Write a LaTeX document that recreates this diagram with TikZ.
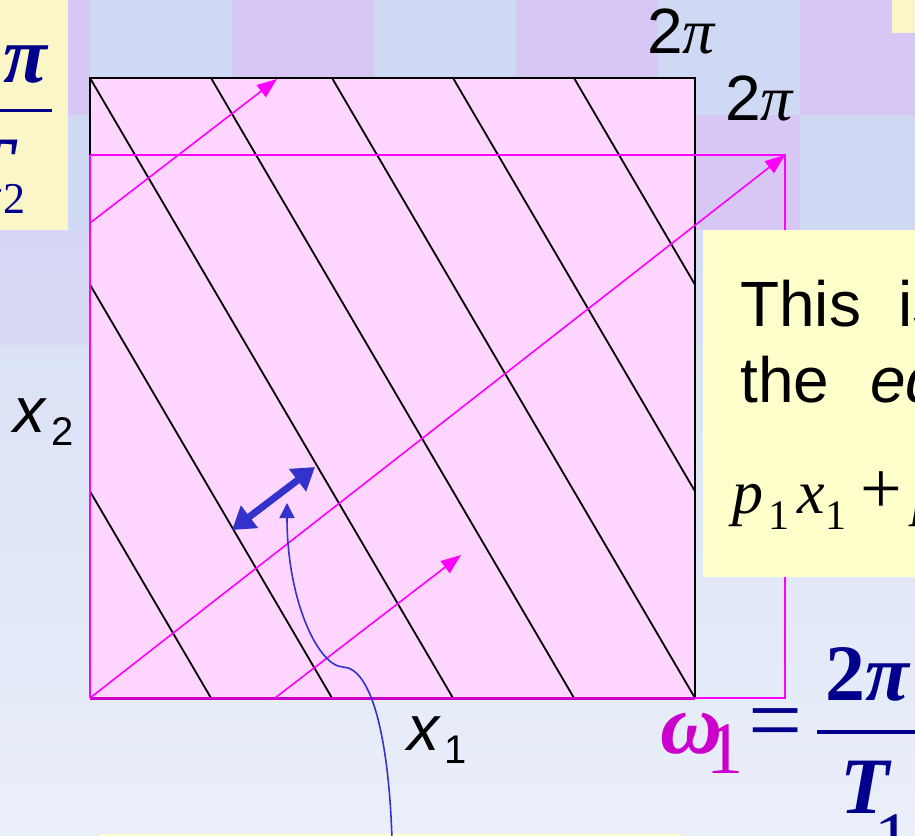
\documentclass[tikz,border=0pt]{standalone}
\usepackage{fontspec}
\setmainfont{Liberation Serif}
\setsansfont{Liberation Sans}
\usepackage{tikz}
\usetikzlibrary{arrows.meta}
\definecolor{lav}{RGB}{215,199,245}
\definecolor{skyb}{RGB}{208,217,244}
\definecolor{haze}{RGB}{234,239,249}
\definecolor{rosy}{RGB}{255,214,255}
\definecolor{mag}{RGB}{255,0,255}
\definecolor{magd}{RGB}{204,0,204}
\definecolor{blu}{RGB}{51,51,204}
\definecolor{navy}{RGB}{0,0,140}
\definecolor{memo}{RGB}{255,255,204}
\definecolor{parch}{RGB}{250,246,200}
\tikzset{
  lbl/.style={inner sep=0pt,anchor=base west,font=\sffamily\fontsize{64}{70}\selectfont},
  eqn/.style={inner sep=0pt,font=\fontsize{62}{64}\selectfont},
  big/.style={inner sep=0pt,text=navy,font=\bfseries\fontsize{80}{84}\selectfont},
  hatch/.style={black,line width=1.8pt},
  orbit/.style={mag,line width=1.6pt,-{Triangle[length=20pt,width=15pt]}},
  gap/.style={blu,line width=7pt,{Triangle[length=22pt,width=27pt]}-{Triangle[length=22pt,width=27pt]}},
  ptr/.style={blu,line width=1.6pt,-{Triangle[length=15pt,width=15pt]}},
  memobox/.style={fill=memo,inner sep=0pt,anchor=north west},
}
\newcommand{\lowsub}[3]{\raisebox{-#1pt}{\fontsize{#2}{#2}\selectfont #3}}
\newcommand{\pii}{{\rmfamily\itshape π}}

\begin{document}
\begin{tikzpicture}[x=1pt,y=-1pt]
\useasboundingbox (0,0) rectangle (915,835);
\clip (0,0) rectangle (915,835);
% backdrop
\shade[top color=skyb,bottom color=haze] (0,0) rectangle (915,835);
\foreach \xa in {-52,232,516,800}{
  \fill[lav] (\xa,0) rectangle ++(142,115);
  \fill[skyb] (\xa,115) rectangle ++(142,115);
  \fill[lav,opacity=.3] (\xa,230) rectangle ++(142,115);
}
\foreach \xa in {90,374,658}{
  \fill[skyb] (\xa,0) rectangle ++(142,115);
  \fill[lav] (\xa,115) rectangle ++(142,115);
  \fill[skyb,opacity=.3] (\xa,230) rectangle ++(142,115);
}
\fill[parch] (0,0) rectangle (68,230);
\fill[parch] (892,0) rectangle (915,33);
\fill[memo] (100,833.5) rectangle (680,836);

% corners
\coordinate (sqNW) at (90,78);
\coordinate (sqNE) at (695,78);
\coordinate (sqSE) at (695,698);
\coordinate (tO) at (90,698);
\coordinate (tN) at (90,155);
\coordinate (tNE) at (785,155);
\coordinate (tE) at (785,698);

\fill[rosy] (sqNW) rectangle (sqSE);
\begin{scope}
  \clip (sqNW) rectangle (sqSE);
  \foreach \k in {-2,...,4}
    \draw[hatch] (90+121*\k,78) -- ++(363,620);
\end{scope}
\draw[black,line width=1.8pt] (tN) -- (sqNW) -- (sqNE) -- (sqSE);
\draw[mag,line width=1.6pt] (sqSE) -- (tE) -- (tNE) -- (tN);
\draw[mag,line width=2.6pt] (tN) -- (tO);
\draw[magd,line width=3pt] (tO) -- (sqSE);

% trajectory
\coordinate (wrapL) at (90,223);
\coordinate (wrapT) at (277,79);
\coordinate (wrapB) at (275,698);
\coordinate (wrapR) at (461,555);
\draw[orbit] (tO) -- (tNE);
\draw[orbit] (wrapL) -- (wrapT);
\draw[orbit] (wrapB) -- (wrapR);

% spacing marker
\coordinate (gapA) at (232,530);
\coordinate (gapB) at (315,467);
\draw[gap] (gapA) -- (gapB);
\coordinate (ptrFoot) at (392,840);
\coordinate (ptrTip) at (287,503);
\draw[ptr] (ptrFoot) .. controls (389,740) and (372,668) .. (343,667)
  .. controls (318,666) and (287,600) .. (ptrTip);

% note
\node[memobox,minimum width=240pt,minimum height=347pt] (note) at (703,230) {};
\node[lbl] (noteA) at (740,326) {This\hspace{37pt}is};
\node[lbl] (noteB) at (740,402) {the\hspace{41pt}\textit{eq}};
\node[eqn,anchor=base west] (noteC) at (732,513)
  {\textit{p}\kern5pt\lowsub{16}{42}{1}\kern8pt\textit{x}\kern1pt\lowsub{16}{42}{1}\kern14pt{\fontsize{74}{74}\selectfont+}\kern10pt\textit{p}};

% axis labels
\node[lbl] (topA) at (647,53) {2\pii};
\node[lbl] (topB) at (725,120) {2\pii};
\node[lbl] (xTwo) at (13,432) {\textit{x}\kern4pt\lowsub{13}{40}{2}};
\node[lbl] (xOne) at (407,750) {\textit{x}\kern3pt\lowsub{13}{40}{1}};

% frequencies
\node[big,anchor=base east] (piL) at (47,82) {\itshape π};
\draw[navy,line width=3pt] (-10,110) -- (52,110);
\node[big,anchor=base east] (tL) at (16,192) {\itshape T};
\node[inner sep=0pt,anchor=base east,text=navy,font=\fontsize{44}{46}\selectfont] (sL) at (26,213) {2};

\node[inner sep=0pt,anchor=base west,text=magd,font=\bfseries\itshape\fontsize{86}{90}\selectfont] (om) at (660,753) {ω};
\node[inner sep=0pt,anchor=base west,text=magd,font=\fontsize{74}{78}\selectfont] (omSub) at (706,773) {1};
\node[inner sep=0pt,text=navy,font=\fontsize{96}{100}\selectfont] (eqs) at (776,731) {=};
\draw[navy,line width=4pt] (817,732) -- (930,732);
\node[big,anchor=base west] (num) at (825,700) {2\textit{π}};
\node[big,anchor=base west] (den) at (840,813) {\itshape T};
\node[inner sep=0pt,anchor=base west,text=navy,font=\fontsize{74}{78}\selectfont] (denSub) at (874,863) {1};
\end{tikzpicture}
\end{document}
